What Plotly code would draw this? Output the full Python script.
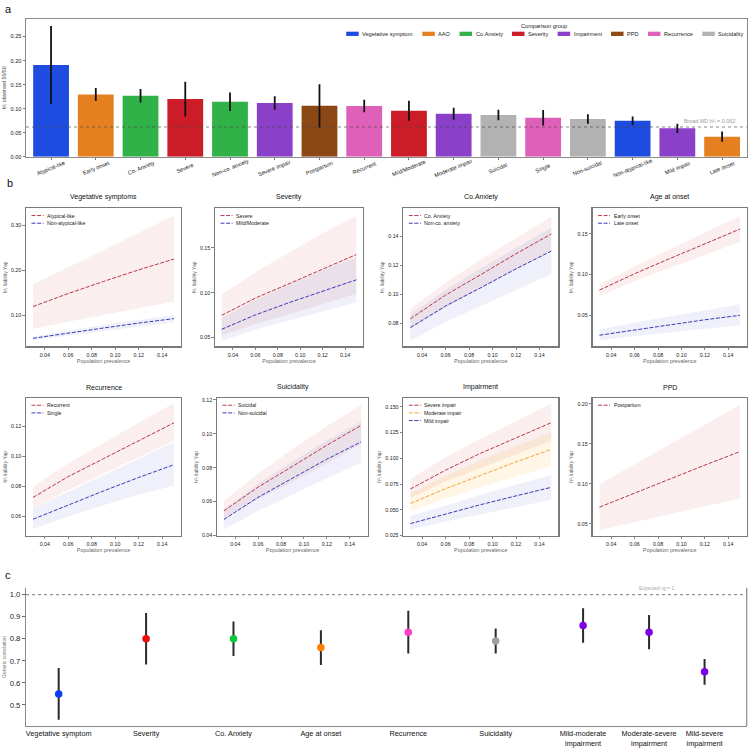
import plotly.graph_objects as go

W, H = 750, 749
FONT = "Liberation Sans, Arial, Helvetica, sans-serif"


def fx(p):
    return p / W


def fy(p):
    return 1 - p / H


# ---------------- Panel a data ----------------
bar_labels = ["Atypical-like", "Early onset", "Co. Anxiety", "Severe", "Non-co. anxiety",
              "Severe impair", "Postpartum", "Recurrent", "Mild/Moderate", "Moderate impair",
              "Suicidal", "Single", "Non-suicidal", "Non-atypical-like", "Mild impair", "Late onset"]
bar_h2 = [0.191, 0.1295, 0.127, 0.120, 0.1145, 0.112, 0.106, 0.1055, 0.0958, 0.0897,
          0.0868, 0.0814, 0.0787, 0.0748, 0.0593, 0.0420]
bar_err = [0.081, 0.0135, 0.014, 0.036, 0.019, 0.014, 0.045, 0.013, 0.021, 0.0125,
           0.011, 0.016, 0.010, 0.009, 0.0097, 0.0107]
bar_group = ["Vegetative symptom", "AAO", "Co.Anxiety", "Severity", "Co.Anxiety",
             "Impairment", "PPD", "Recurrence", "Severity", "Impairment",
             "Suicidality", "Recurrence", "Suicidality", "Vegetative symptom", "Impairment", "AAO"]
group_names = ["Vegetative symptom", "AAO", "Co.Anxiety", "Severity", "Impairment",
               "PPD", "Recurrence", "Suicidality"]
group_colors = ["#1f4ce0", "#e48020", "#30b248", "#cc1c28", "#8a40c8", "#8c4814", "#de60b8", "#b2b2b2"]
broad_md_h2 = 0.062

# ---------------- Panel b data ----------------
prevalence = [0.03, 0.06, 0.09, 0.12, 0.15]

atypical = [0.119, 0.148, 0.175, 0.201, 0.225]
atypical_lo = [0.070, 0.085, 0.100, 0.115, 0.130]
atypical_hi = [0.168, 0.207, 0.245, 0.284, 0.322]
non_atypical = [0.048, 0.060, 0.071, 0.082, 0.092]
non_atypical_lo = [0.044, 0.054, 0.064, 0.074, 0.084]
non_atypical_hi = [0.052, 0.065, 0.078, 0.089, 0.100]

severe = [0.0748, 0.094, 0.110, 0.1265, 0.1426]
severe_lo = [0.052, 0.065, 0.076, 0.087, 0.099]
severe_hi = [0.098, 0.123, 0.145, 0.166, 0.186]
mild_moderate = [0.0592, 0.0752, 0.0889, 0.102, 0.1144]
mild_moderate_lo = [0.046, 0.059, 0.069, 0.079, 0.089]
mild_moderate_hi = [0.072, 0.092, 0.109, 0.125, 0.140]

co_anxiety = [0.0832, 0.0995, 0.1136, 0.128, 0.1416]
co_anxiety_lo = [0.076, 0.091, 0.104, 0.117, 0.130]
co_anxiety_hi = [0.090, 0.108, 0.124, 0.139, 0.1535]
non_co_anxiety = [0.0771, 0.092, 0.1046, 0.1176, 0.1298]
non_co_anxiety_lo = [0.068, 0.081, 0.092, 0.103, 0.114]
non_co_anxiety_hi = [0.086, 0.103, 0.118, 0.132, 0.146]

early_onset = [0.0809, 0.1010, 0.1195, 0.1380, 0.1557]
early_onset_lo = [0.0735, 0.092, 0.108, 0.124, 0.140]
early_onset_hi = [0.0878, 0.110, 0.131, 0.151, 0.1717]
late_onset = [0.0256, 0.0320, 0.0385, 0.0445, 0.0500]
late_onset_lo = [0.0195, 0.0245, 0.0292, 0.0335, 0.0378]
late_onset_hi = [0.0325, 0.0410, 0.0485, 0.0560, 0.0634]

recurrent = [0.0727, 0.0866, 0.0985, 0.1105, 0.1224]
recurrent_lo = [0.0657, 0.0777, 0.0885, 0.0995, 0.1105]
recurrent_hi = [0.0800, 0.0955, 0.1090, 0.1225, 0.1354]
single = [0.0582, 0.0677, 0.0770, 0.0860, 0.0945]
single_lo = [0.0516, 0.0600, 0.0675, 0.0745, 0.0806]
single_hi = [0.0655, 0.0765, 0.0877, 0.0987, 0.1094]

suicidal = [0.0545, 0.0685, 0.0808, 0.0932, 0.1050]
suicidal_lo = [0.0495, 0.0615, 0.0715, 0.0825, 0.0940]
suicidal_hi = [0.0605, 0.0765, 0.0910, 0.1045, 0.1170]
non_suicidal = [0.0494, 0.0625, 0.0738, 0.0850, 0.0952]
non_suicidal_lo = [0.0435, 0.0545, 0.0640, 0.0737, 0.0831]
non_suicidal_hi = [0.0553, 0.0705, 0.0836, 0.0960, 0.1073]

severe_impair = [0.0702, 0.0885, 0.1050, 0.1200, 0.1346]
severe_impair_lo = [0.0615, 0.0775, 0.0910, 0.1040, 0.1170]
severe_impair_hi = [0.0799, 0.1010, 0.1190, 0.1360, 0.1530]
moderate_impair = [0.0561, 0.0705, 0.0835, 0.0965, 0.1087]
moderate_impair_lo = [0.0485, 0.0610, 0.0720, 0.0825, 0.0925]
moderate_impair_hi = [0.0660, 0.0830, 0.0980, 0.1120, 0.1254]
mild_impair = [0.0366, 0.0461, 0.0550, 0.0635, 0.0718]
mild_impair_lo = [0.0308, 0.0385, 0.0457, 0.0528, 0.0597]
mild_impair_hi = [0.0437, 0.0543, 0.0646, 0.0743, 0.0838]

postpartum = [0.0710, 0.0890, 0.1060, 0.1235, 0.1404]
postpartum_lo = [0.0425, 0.0520, 0.0620, 0.0720, 0.0814]
postpartum_hi = [0.1000, 0.1250, 0.1500, 0.1740, 0.1988]

# ---------------- Panel c data ----------------
rg_labels = ["Vegetative symptom", "Severity", "Co. Anxiety", "Age at onset", "Recurrence",
             "Suicidality", "Mild-moderate<br>impairment", "Moderate-severe<br>impairment",
             "Mild-severe<br>impairment"]
rg_values = [0.55, 0.80, 0.80, 0.76, 0.83, 0.79, 0.86, 0.83, 0.65]
rg_err = [0.117, 0.117, 0.078, 0.079, 0.097, 0.057, 0.078, 0.078, 0.058]
rg_colors = ["#0a3cf5", "#f00a0a", "#0ac83c", "#ff8000", "#ff3cc8", "#a0a0a0",
             "#7d00e6", "#7d00e6", "#7d00e6"]

# ---------------- styling ----------------
RED = "#b8384a"
BLUE = "#3c3cb8"
ORANGE = "#f2a43c"
BAND = {RED: "rgba(205,92,92,0.10)", BLUE: "rgba(100,110,200,0.10)", ORANGE: "rgba(255,165,0,0.10)"}
H2L = "h\u00b2\u2097"


def text_width(s, size):
    w = 0.0
    for c in s:
        if c in "ijl|":
            w += 0.222
        elif c in " .,:;tfI/!'":
            w += 0.278
        elif c in "r-()":
            w += 0.333
        elif c in "skvxyzcJ":
            w += 0.5
        elif c in "mM":
            w += 0.833
        elif c in "wCDHNRU":
            w += 0.722
        elif c in "GOQ":
            w += 0.778
        elif c == "W":
            w += 0.944
        elif c in "FTZ":
            w += 0.611
        elif c == "L":
            w += 0.556
        elif c.isupper():
            w += 0.667
        else:
            w += 0.556
    return w * size


fig = go.Figure()
shapes = []
annotations = []
layout = dict(
    width=W, height=H, margin=dict(l=0, r=0, t=0, b=0),
    paper_bgcolor="white", plot_bgcolor="white", showlegend=False,
    barmode="overlay", font=dict(family=FONT, color="#222"),
)

# ================= Panel a =================
for g, col in zip(group_names, group_colors):
    idx = [i for i, gg in enumerate(bar_group) if gg == g]
    fig.add_trace(go.Bar(
        x=[bar_labels[i] for i in idx], y=[bar_h2[i] for i in idx],
        error_y=dict(type="data", array=[bar_err[i] for i in idx], color="#111", thickness=1.8, width=0),
        marker=dict(color=col, line=dict(width=0)), width=0.8, name=g,
        xaxis="x", yaxis="y",
    ))

layout["xaxis"] = dict(domain=[fx(26), fx(746.7)], anchor="y", type="category",
                       categoryorder="array", categoryarray=bar_labels, range=[-0.56, 15.55],
                       showticklabels=False, ticks="outside", ticklen=2, tickcolor="#777",
                       showline=True, mirror=True, linecolor="#8a8a8a", linewidth=1, showgrid=False)
layout["yaxis"] = dict(domain=[fy(156.7), fy(18)], anchor="x", range=[0, 0.2866],
                       tickvals=[0, 0.05, 0.10, 0.15, 0.20, 0.25], tickformat=".2f",
                       tickfont=dict(size=5.6, color="#222"), ticks="outside", ticklen=2.5, tickcolor="#777",
                       showline=True, mirror=True, linecolor="#8a8a8a", linewidth=1, showgrid=False, zeroline=False,
                       title=dict(text=H2L + " observed 50/50", font=dict(size=5.2, color="#444"),
                                  standoff=3))

for lab in bar_labels:
    annotations.append(dict(x=lab, xref="x", y=fy(168), yref="paper", text=lab, textangle=-22,
                            showarrow=False, font=dict(size=5.6, color="#222"),
                            xanchor="center", yanchor="middle"))

shapes.append(dict(type="line", xref="x domain", x0=0, x1=1, yref="y", y0=broad_md_h2, y1=broad_md_h2,
                   line=dict(color="rgba(70,70,70,0.65)", width=1, dash="dot"), layer="above"))
annotations.append(dict(x=fx(737), xref="paper", xanchor="right", y=broad_md_h2, yref="y", yshift=6,
                        text="Broad MD " + H2L + " = %.3f" % broad_md_h2, showarrow=False,
                        font=dict(size=5.4, color="#9a9a9a")))

# manual legend for panel a
leg_font = 5.6
sw_w, sw_h, gap_t, gap_i = 12.5, 4.3, 2.5, 10.4
widths = [text_width(n, leg_font) for n in group_names]
total = sum(sw_w + gap_t + w for w in widths) + gap_i * (len(group_names) - 1)
right_end = 742.5
cur = right_end - total
leg_y = 33
for n, col, w in zip(group_names, group_colors, widths):
    shapes.append(dict(type="rect", xref="paper", yref="paper", x0=fx(cur), x1=fx(cur + sw_w),
                       y0=fy(leg_y + sw_h / 2), y1=fy(leg_y - sw_h / 2), fillcolor=col, line=dict(width=0)))
    annotations.append(dict(x=fx(cur + sw_w + gap_t), xref="paper", xanchor="left", y=fy(leg_y), yref="paper",
                            yanchor="middle", text=n, showarrow=False, borderpad=0,
                            font=dict(size=leg_font, color="#222")))
    cur += sw_w + gap_t + w + gap_i
annotations.append(dict(x=fx(right_end - total / 2), xref="paper", y=fy(25), yref="paper", text="Comparison group",
                        showarrow=False, xanchor="center", yanchor="middle", font=dict(size=5.6, color="#222")))

# ================= Panel b =================
b_panels = [
    dict(title="Vegetative symptoms", box=(26, 181, 208.3, 347.3), yr=[0.0298, 0.3387],
         yt=[0.10, 0.20, 0.30], fmt=".2f",
         series=[("Atypical-like", atypical, atypical_lo, atypical_hi, RED),
                 ("Non-atypical-like", non_atypical, non_atypical_lo, non_atypical_hi, BLUE)]),
    dict(title="Severity", box=(215, 363, 208.3, 347.3), yr=[0.040, 0.1944],
         yt=[0.05, 0.10, 0.15], fmt=".2f",
         series=[("Severe", severe, severe_lo, severe_hi, RED),
                 ("Mild/Moderate", mild_moderate, mild_moderate_lo, mild_moderate_hi, BLUE)]),
    dict(title="Co.Anxiety", box=(403.3, 558.3, 208.3, 347.3), yr=[0.0641, 0.1594],
         yt=[0.08, 0.10, 0.12, 0.14], fmt=".2f",
         series=[("Co. Anxiety", co_anxiety, co_anxiety_lo, co_anxiety_hi, RED),
                 ("Non-co. anxiety", non_co_anxiety, non_co_anxiety_lo, non_co_anxiety_hi, BLUE)]),
    dict(title="Age at onset", box=(592.5, 747, 208.3, 347.3), yr=[0.0118, 0.1813],
         yt=[0.05, 0.10, 0.15], fmt=".2f",
         series=[("Early onset", early_onset, early_onset_lo, early_onset_hi, RED),
                 ("Late onset", late_onset, late_onset_lo, late_onset_hi, BLUE)]),
    dict(title="Recurrence", box=(26, 181, 399, 537.6), yr=[0.0472, 0.139],
         yt=[0.06, 0.08, 0.10, 0.12], fmt=".2f",
         series=[("Recurrent", recurrent, recurrent_lo, recurrent_hi, RED),
                 ("Single", single, single_lo, single_hi, BLUE)]),
    dict(title="Suicidality", box=(217, 368, 399, 537.6), yr=[0.0398, 0.1212],
         yt=[0.04, 0.06, 0.08, 0.10, 0.12], fmt=".2f",
         series=[("Suicidal", suicidal, suicidal_lo, suicidal_hi, RED),
                 ("Non-suicidal", non_suicidal, non_suicidal_lo, non_suicidal_hi, BLUE)]),
    dict(title="Impairment", box=(403.3, 558.3, 399, 537.6), yr=[0.0248, 0.1587],
         yt=[0.025, 0.050, 0.075, 0.100, 0.125, 0.150], fmt=".3f",
         series=[("Severe impair", severe_impair, severe_impair_lo, severe_impair_hi, RED),
                 ("Moderate impair", moderate_impair, moderate_impair_lo, moderate_impair_hi, ORANGE),
                 ("Mild impair", mild_impair, mild_impair_lo, mild_impair_hi, BLUE)]),
    dict(title="PPD", box=(592.5, 747, 399, 537.6), yr=[0.0353, 0.2075],
         yt=[0.05, 0.10, 0.15, 0.20], fmt=".2f",
         series=[("Postpartum", postpartum, postpartum_lo, postpartum_hi, RED)]),
]

for k, p in enumerate(b_panels):
    n = k + 2
    xa, ya = "x%d" % n, "y%d" % n
    l, r, t, b = p["box"]
    # bands first
    for name, c, lo, hi, col in p["series"]:
        fig.add_trace(go.Scatter(x=prevalence + prevalence[::-1], y=hi + lo[::-1], fill="toself",
                                 fillcolor=BAND[col], line=dict(width=0), mode="lines",
                                 hoverinfo="skip", xaxis=xa, yaxis=ya))
    for name, c, lo, hi, col in p["series"]:
        fig.add_trace(go.Scatter(x=prevalence, y=c, mode="lines", name=name,
                                 line=dict(color=col, width=1, dash="4px,1.6px"), xaxis=xa, yaxis=ya))
    layout["xaxis%d" % n] = dict(domain=[fx(l), fx(r)], anchor=ya, range=[0.024, 0.156],
                                 tickvals=[0.04, 0.06, 0.08, 0.10, 0.12, 0.14], tickformat=".2f",
                                 tickfont=dict(size=5.3, color="#222"), ticks="outside", ticklen=2.5,
                                 tickcolor="#666", tickwidth=0.8,
                                 showline=True, mirror=True, linecolor="#7a7a7a", linewidth=1.2,
                                 showgrid=False, zeroline=False,
                                 title=dict(text="Population prevalence", font=dict(size=5.4, color="#666"),
                                            standoff=2))
    layout["yaxis%d" % n] = dict(domain=[fy(b), fy(t)], anchor=xa, range=p["yr"], tickvals=p["yt"],
                                 tickformat=p["fmt"], tickfont=dict(size=5.3, color="#222"),
                                 ticks="outside", ticklen=2.5, tickcolor="#666", tickwidth=0.8,
                                 showline=True, mirror=True, linecolor="#7a7a7a", linewidth=1.2,
                                 showgrid=False, zeroline=False,
                                 title=dict(text=H2L + " liability Yap",
                                            font=dict(size=5.0, color="#666"), standoff=3))
    annotations.append(dict(x=fx((l + r) / 2), xref="paper", y=fy(t - 5), yref="paper", text=p["title"],
                            showarrow=False, xanchor="center", yanchor="bottom",
                            font=dict(size=7, color="#111")))
    # manual legend in the upper-left corner
    for i, (name, c, lo, hi, col) in enumerate(p["series"]):
        yy = t + 7.4 + i * 7.7
        shapes.append(dict(type="line", xref="paper", yref="paper", x0=fx(l + 5.5), x1=fx(l + 17.5),
                           y0=fy(yy), y1=fy(yy), line=dict(color=col, width=1, dash="4px,1.6px")))
        annotations.append(dict(x=fx(l + 20), xref="paper", xanchor="left", y=fy(yy), yref="paper",
                                yanchor="middle", text=name, showarrow=False, borderpad=0,
                                font=dict(size=5.2, color="#222")))

# ================= Panel c =================
rg_tick_pos = [0, 1, 2, 3, 4, 5, 6, 6.755, 7.39]
fig.add_trace(go.Scatter(x=rg_tick_pos, y=rg_values, mode="markers",
                         marker=dict(color=rg_colors, size=7.5, line=dict(width=0)),
                         error_y=dict(type="data", array=rg_err, color="#2a2a2a", thickness=2, width=0),
                         xaxis="x10", yaxis="y10"))
layout["xaxis10"] = dict(domain=[fx(26), fx(746.7)], anchor="y10", range=[-0.374, 7.872],
                         tickvals=rg_tick_pos, ticktext=rg_labels, tickfont=dict(size=7.3, color="#111"),
                         ticks="", showline=True, linecolor="#8a8a8a", linewidth=1.2,
                         showgrid=False, zeroline=False)
layout["yaxis10"] = dict(domain=[fy(729), fy(590)], anchor="x10", range=[0.404, 1.031],
                         tickvals=[0.5, 0.6, 0.7, 0.8, 0.9, 1.0], tickformat=".1f",
                         tickfont=dict(size=7.6, color="#222"), ticks="outside", ticklen=3, tickcolor="#666",
                         showline=True, linecolor="#8a8a8a", linewidth=1.2, showgrid=False, zeroline=False,
                         title=dict(text="Genetic correlation", font=dict(size=5.0, color="#777"), standoff=3))
shapes.append(dict(type="line", xref="x10 domain", x0=1, x1=1, yref="y10 domain", y0=0, y1=1,
                   line=dict(color="#8a8a8a", width=1.2)))
shapes.append(dict(type="line", xref="x10 domain", x0=0, x1=1, yref="y10", y0=1.0, y1=1.0,
                   line=dict(color="#777", width=1, dash="dot")))
annotations.append(dict(x=fx(676), xref="paper", y=1.0, yref="y10", yshift=7, text="Expected rg = 1",
                        showarrow=False, font=dict(size=5.0, color="#a8a8a8")))

# panel letters
for letter, x0, y0 in [("a", 8, 8), ("b", 10, 183), ("c", 8, 577)]:
    annotations.append(dict(x=fx(x0), xref="paper", y=fy(y0), yref="paper", text=letter, showarrow=False,
                            xanchor="center", yanchor="middle", font=dict(size=11, color="#111")))

layout["shapes"] = shapes
layout["annotations"] = annotations
fig.update_layout(**layout)
fig.write_html("out.html", config={"displayModeBar": False, "staticPlot": True},
               post_script="document.body.style.margin='0px';document.body.style.overflow='hidden';")
